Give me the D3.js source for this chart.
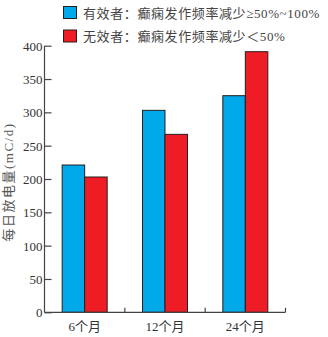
<!DOCTYPE html>
<html>
<head>
<meta charset="utf-8">
<script src="https://cdn.jsdelivr.net/npm/d3@7"></script>
<style>
  html, body { margin: 0; padding: 0; background: #fff; }
  svg { display: block; }
  text { font-family: "Liberation Serif", "Noto Sans CJK SC", serif; }
</style>
</head>
<body>
<svg id="chart" width="328" height="337"></svg>
<script>
// Follow-up periods and the two response groups
const categories = ["6个月", "12个月", "24个月"];
const seriesNames = ["有效者：癫痫发作频率减少≥50%~100%", "无效者：癫痫发作频率减少＜50%"];
const effectiveValues = [221, 303, 325];
const ineffectiveValues = [203, 267, 391];
const yTicks = [0, 50, 100, 150, 200, 250, 300, 350, 400];
const colors = ["#00A9E9", "#EE1D25"];
const yLabel = "每日放电量(mC/d)";

const rows = categories.map((c, i) => ({
  cat: c,
  vals: [effectiveValues[i], ineffectiveValues[i]]
}));

const svg = d3.select("#chart");
const margin = { left: 44.5, right: 42.5, top: 45.7, bottom: 24.7 };
const W = 328, H = 337;
const plotL = margin.left, plotR = W - margin.right;
const plotT = margin.top, plotB = H - margin.bottom;

const x0 = d3.scaleBand().domain(categories).range([plotL, plotR]).paddingInner(0).paddingOuter(0);
const x1 = d3.scaleBand().domain([0, 1]).range([0, x0.bandwidth()]).paddingInner(0).paddingOuter(0.785);
const y = d3.scaleLinear().domain([0, 400]).range([plotB, plotT]);

// Bars
const groups = svg.append("g").selectAll("g").data(rows).join("g")
  .attr("transform", d => `translate(${x0(d.cat)},0)`);
groups.selectAll("rect").data(d => d.vals.map((v, k) => ({ v, k }))).join("rect")
  .attr("x", d => x1(d.k))
  .attr("y", d => y(d.v))
  .attr("width", x1.bandwidth())
  .attr("height", d => y(0) - y(d.v))
  .attr("fill", d => colors[d.k])
  .attr("stroke", "#231F20")
  .attr("stroke-width", 1);

// Y axis with inward ticks
const yAxis = d3.axisRight(y).tickValues(yTicks).tickSize(7).tickFormat("");
const gy = svg.append("g").attr("transform", `translate(${plotL},0)`).call(yAxis);
gy.select(".domain").attr("d", `M0,${plotT}V${plotB}`);
gy.selectAll("line, path").attr("stroke", "#444").attr("stroke-width", 1.2);
gy.selectAll(".tick").append("text")
  .attr("x", -2).attr("dy", "0.35em")
  .attr("text-anchor", "end")
  .attr("fill", "#333")
  .attr("font-size", 13)
  .text(d => d);

// X axis: baseline with small upward ticks at band boundaries
const xEdges = categories.slice(1).map(c => x0(c)).concat([plotR]);
const gx = svg.append("g");
gx.append("line").attr("x1", plotL).attr("x2", plotR).attr("y1", plotB).attr("y2", plotB)
  .attr("stroke", "#444").attr("stroke-width", 1.2);
gx.selectAll("line.edge").data(xEdges).join("line").attr("class", "edge")
  .attr("x1", d => d).attr("x2", d => d)
  .attr("y1", plotB).attr("y2", plotB - 4.5)
  .attr("stroke", "#444").attr("stroke-width", 1.2);
gx.selectAll("text").data(categories).join("text")
  .attr("x", d => x0(d) + x0.bandwidth() / 2)
  .attr("y", plotB + 19)
  .attr("text-anchor", "middle")
  .attr("fill", "#333")
  .attr("font-size", 13)
  .text(d => d);

// Y axis title
svg.append("text")
  .attr("transform", `translate(13,182) rotate(-90)`)
  .attr("text-anchor", "middle")
  .attr("fill", "#555")
  .attr("font-size", 13)
  .attr("letter-spacing", 1.5)
  .text(yLabel);

// Legend
const legend = svg.append("g").selectAll("g").data(seriesNames).join("g")
  .attr("transform", (d, i) => `translate(63.5,${6.5 + i * 23.5})`);
legend.append("rect")
  .attr("width", 13).attr("height", 12)
  .attr("fill", (d, i) => colors[i])
  .attr("stroke", "#231F20").attr("stroke-width", 1);
legend.append("text")
  .attr("x", 19.5).attr("y", 11)
  .attr("fill", "#444")
  .attr("font-size", 13)
  .attr("letter-spacing", 0.6)
  .text(d => d);
</script>
</body>
</html>
